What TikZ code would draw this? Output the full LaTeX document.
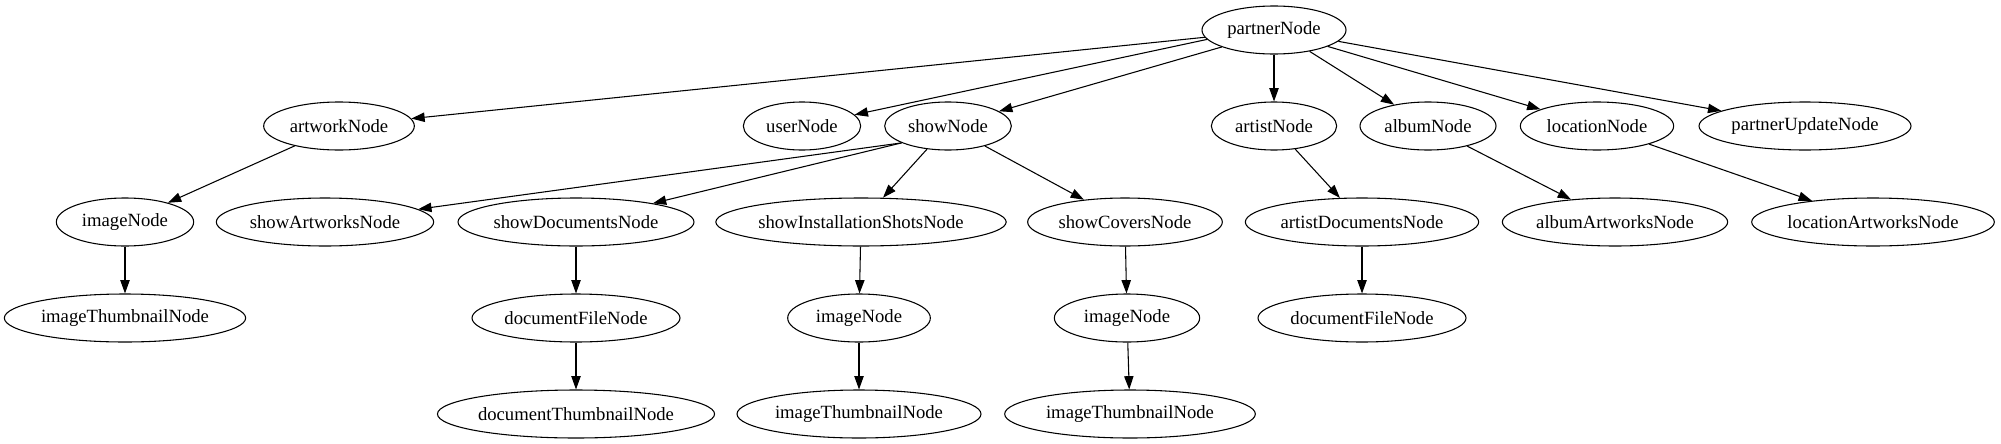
\documentclass[tikz,border=0pt]{standalone}
\usepackage{fontspec}
\setmainfont{Liberation Serif}
\usepackage{tikz}
\usetikzlibrary{arrows.meta}
\usetikzlibrary{shapes.geometric}

\tikzset{
  gnode/.style={draw, ellipse, line width=0.8pt, inner sep=0pt,
    minimum height=36pt, font=\fontsize{14}{16}\selectfont},
  gedge/.style={line width=0.8pt, -{Triangle[length=10pt,width=7pt]}}
}

\begin{document}
\begin{tikzpicture}[x=0.75pt, y=-0.75pt]
	\useasboundingbox (0,0) rectangle (2001,443);

	% Row 0: root
	\node[gnode, minimum width=108pt] (partner) at (1274,30) {partnerNode};

	% Row 1
	\node[gnode, minimum width=113pt] (artwork) at (339,126) {artworkNode};
	\node[gnode, minimum width=88pt] (user) at (802,126) {userNode};
	\node[gnode, minimum width=95pt] (show) at (948,126) {showNode};
	\node[gnode, minimum width=94pt] (artist) at (1274,126) {artistNode};
	\node[gnode, minimum width=102pt] (album) at (1428,126) {albumNode};
	\node[gnode, minimum width=115pt] (location) at (1597,126) {locationNode};
	\node[gnode, minimum width=159pt] (partnerUpdate) at (1805,126) {partnerUpdateNode};

	% Row 2
	\node[gnode, minimum width=103pt] (imageA) at (125,222) {imageNode};
	\node[gnode, minimum width=163pt] (showArtworks) at (325,222) {showArtworksNode};
	\node[gnode, minimum width=177pt] (showDocuments) at (576,222) {showDocumentsNode};
	\node[gnode, minimum width=214pt] (showInstallation) at (861,222) {showInstallationShotsNode};
	\node[gnode, minimum width=146pt] (showCovers) at (1125,222) {showCoversNode};
	\node[gnode, minimum width=175pt] (artistDocuments) at (1362,222) {artistDocumentsNode};
	\node[gnode, minimum width=169pt] (albumArtworks) at (1615,222) {albumArtworksNode};
	\node[gnode, minimum width=182pt] (locationArtworks) at (1873,222) {locationArtworksNode};

	% Row 3
	\node[gnode, minimum width=181pt] (thumbA) at (125,318) {imageThumbnailNode};
	\node[gnode, minimum width=156pt] (docFileA) at (576,318) {documentFileNode};
	\node[gnode, minimum width=107pt] (imageB) at (859,318) {imageNode};
	\node[gnode, minimum width=109pt] (imageC) at (1127,318) {imageNode};
	\node[gnode, minimum width=156pt] (docFileB) at (1362,318) {documentFileNode};

	% Row 4
	\node[gnode, minimum width=207pt] (docThumb) at (576,414) {documentThumbnailNode};
	\node[gnode, minimum width=183pt] (thumbB) at (859,414) {imageThumbnailNode};
	\node[gnode, minimum width=188pt] (thumbC) at (1130,414) {imageThumbnailNode};

	% edges leaving the root from points round its border
	\foreach \ang/\b in {186/artwork, 188/user, 198/show, 270/artist,
		329/album, 343/location, 350/partnerUpdate}
		\draw[gedge] (partner.\ang) -- (\b);

	% both left edges of showNode leave from the same point
	\draw[gedge] (show.200) -- (showArtworks);
	\draw[gedge] (show.200) -- (showDocuments);

	% the rest
	\foreach \a/\b in {artwork/imageA, imageA/thumbA,
		show/showInstallation, show/showCovers,
		showDocuments/docFileA, docFileA/docThumb,
		showInstallation/imageB, imageB/thumbB,
		showCovers/imageC, imageC/thumbC,
		artist/artistDocuments, artistDocuments/docFileB,
		album/albumArtworks, location/locationArtworks}
		\draw[gedge] (\a) -- (\b);
\end{tikzpicture}
\end{document}
